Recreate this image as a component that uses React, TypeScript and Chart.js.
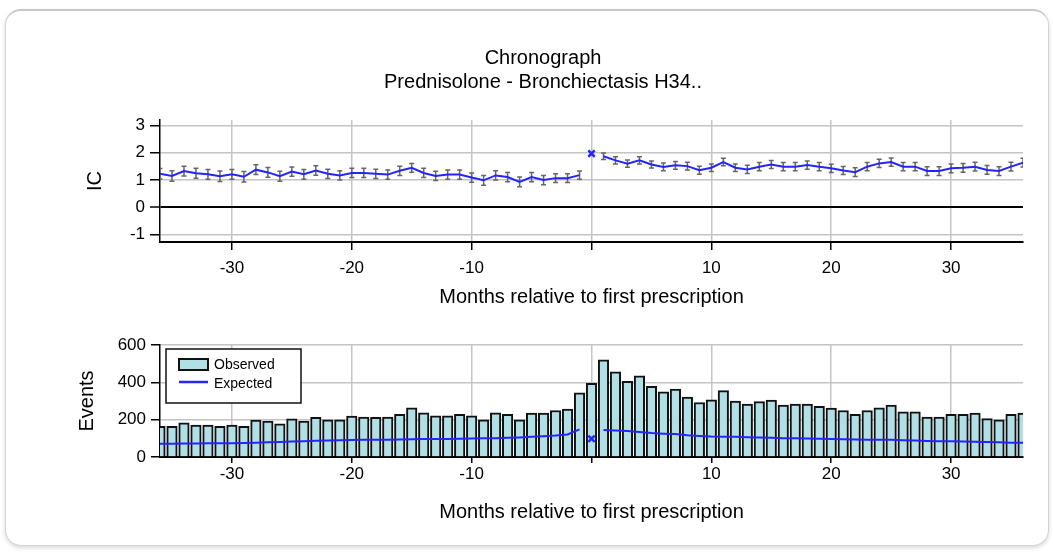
import React, { useEffect, useRef } from 'react';
import { Chart, registerables } from 'chart.js';

Chart.register(...registerables);

const FONT = '"Liberation Sans", Arial, Helvetica, sans-serif';
const BLUE = '#2424ff';
const GRID = '#c4c4c4';
const BAR_FILL = '#b0e0e6';

const chartTitle = ['Chronograph', 'Prednisolone - Bronchiectasis H34..'];
const xTitle = 'Months relative to first prescription';

const monthsBefore = [-36, -35, -34, -33, -32, -31, -30, -29, -28, -27, -26, -25, -24, -23, -22, -21, -20, -19, -18, -17, -16, -15, -14, -13, -12, -11, -10, -9, -8, -7, -6, -5, -4, -3, -2, -1];
const monthZero = 0;
const monthsAfter = [1, 2, 3, 4, 5, 6, 7, 8, 9, 10, 11, 12, 13, 14, 15, 16, 17, 18, 19, 20, 21, 22, 23, 24, 25, 26, 27, 28, 29, 30, 31, 32, 33, 34, 35, 36];

const icBefore = [1.23, 1.15, 1.33, 1.25, 1.21, 1.14, 1.21, 1.12, 1.38, 1.28, 1.14, 1.31, 1.21, 1.35, 1.23, 1.17, 1.26, 1.26, 1.23, 1.2, 1.34, 1.45, 1.26, 1.15, 1.2, 1.2, 1.09, 0.99, 1.17, 1.11, 0.93, 1.11, 1.0, 1.07, 1.07, 1.18];
const icAtZero = 1.97;
const icAfter = [1.87, 1.72, 1.6, 1.72, 1.57, 1.48, 1.54, 1.51, 1.36, 1.45, 1.66, 1.45, 1.39, 1.49, 1.57, 1.49, 1.49, 1.55, 1.49, 1.43, 1.35, 1.29, 1.49, 1.61, 1.66, 1.49, 1.49, 1.33, 1.33, 1.43, 1.45, 1.49, 1.37, 1.33, 1.49, 1.64];
const icErrBefore = [0.19, 0.19, 0.18, 0.18, 0.18, 0.19, 0.18, 0.19, 0.18, 0.18, 0.18, 0.17, 0.18, 0.17, 0.17, 0.17, 0.17, 0.17, 0.17, 0.17, 0.17, 0.16, 0.17, 0.17, 0.17, 0.17, 0.17, 0.18, 0.17, 0.17, 0.18, 0.17, 0.17, 0.16, 0.16, 0.15];
const icErrAfter = [0.12, 0.13, 0.13, 0.13, 0.13, 0.14, 0.14, 0.14, 0.15, 0.14, 0.14, 0.14, 0.15, 0.15, 0.15, 0.15, 0.15, 0.15, 0.15, 0.15, 0.15, 0.16, 0.15, 0.15, 0.15, 0.15, 0.15, 0.16, 0.16, 0.16, 0.16, 0.16, 0.16, 0.16, 0.16, 0.16];

const observedBefore = [164, 164, 183, 171, 171, 164, 171, 164, 198, 192, 178, 205, 192, 212, 199, 199, 219, 214, 213, 214, 228, 264, 237, 221, 221, 228, 221, 199, 237, 228, 199, 235, 235, 249, 257, 344];
const observedAtZero = 394;
const observedAfter = [520, 456, 406, 435, 378, 349, 364, 321, 292, 306, 356, 299, 283, 297, 305, 278, 283, 283, 271, 262, 249, 228, 249, 264, 278, 242, 242, 214, 214, 228, 228, 235, 206, 199, 228, 235];

const expectedBefore = [71, 71, 72, 72, 73, 73, 74, 75, 77, 79, 81, 83, 85, 87, 88, 90, 91, 92, 92, 93, 94, 95, 96, 96, 97, 98, 99, 100, 101, 103, 105, 108, 111, 115, 121, 148];
const expectedAtZero = 98;
const expectedAfter = [144, 142, 139, 134, 128, 125, 123, 116, 113, 110, 109, 108, 106, 104, 103, 101, 100, 99, 98, 96, 95, 94, 93, 93, 92, 90, 88, 86, 85, 84, 83, 82, 80, 79, 77, 76];

const xTickValues = [-30, -20, -10, 0, 10, 20, 30];
const icTickValues = [-1, 0, 1, 2, 3];
const eventTickValues = [0, 200, 400, 600];

const pts = (xs: number[], ys: number[]) => xs.map((x, i) => ({ x, y: ys[i] }));

const errorBarPlugin = {
  id: 'icErrorBars',
  beforeDatasetsDraw(chart: any) {
    const { ctx, chartArea, scales } = chart;
    const xs = [...monthsBefore, ...monthsAfter];
    const ys = [...icBefore, ...icAfter];
    const es = [...icErrBefore, ...icErrAfter];
    ctx.save();
    ctx.beginPath();
    ctx.rect(chartArea.left, chartArea.top, chartArea.right - chartArea.left, chartArea.bottom - chartArea.top);
    ctx.clip();
    ctx.strokeStyle = '#666666';
    ctx.lineWidth = 1.5;
    xs.forEach((m, i) => {
      const px = scales.x.getPixelForValue(m);
      const top = scales.y.getPixelForValue(ys[i] + es[i]);
      const bot = scales.y.getPixelForValue(ys[i] - es[i]);
      ctx.beginPath();
      ctx.moveTo(px, top);
      ctx.lineTo(px, bot);
      ctx.moveTo(px - 2.5, top);
      ctx.lineTo(px + 2.5, top);
      ctx.moveTo(px - 2.5, bot);
      ctx.lineTo(px + 2.5, bot);
      ctx.stroke();
    });
    ctx.restore();
  },
};

const legendPlugin = {
  id: 'boxLegend',
  afterDraw(chart: any) {
    const { ctx, chartArea } = chart;
    const bx = chartArea.left + 6;
    const by = chartArea.top + 4;
    const bw = 135;
    const bh = 54;
    const obsLabel = chart.data.datasets[3].label;
    const expLabel = chart.data.datasets[0].label;
    ctx.save();
    ctx.fillStyle = '#ffffff';
    ctx.fillRect(bx, by, bw, bh);
    ctx.strokeStyle = '#111';
    ctx.lineWidth = 1.5;
    ctx.strokeRect(bx, by, bw, bh);
    ctx.fillStyle = BAR_FILL;
    ctx.fillRect(bx + 13, by + 10, 29, 11);
    ctx.strokeStyle = '#111';
    ctx.lineWidth = 2;
    ctx.strokeRect(bx + 13, by + 10, 29, 11);
    ctx.strokeStyle = BLUE;
    ctx.lineWidth = 2.5;
    ctx.beginPath();
    ctx.moveTo(bx + 13, by + 33);
    ctx.lineTo(bx + 42, by + 33);
    ctx.stroke();
    ctx.fillStyle = '#000';
    ctx.font = `14px ${FONT}`;
    ctx.textBaseline = 'middle';
    ctx.textAlign = 'left';
    ctx.fillText(obsLabel, bx + 48, by + 16);
    ctx.fillText(expLabel, bx + 48, by + 35);
    ctx.restore();
  },
};

const tickFont = { family: FONT, size: 17 };
const titleFont = { family: FONT, size: 20 };

export default function App() {
  const topRef = useRef<HTMLCanvasElement>(null);
  const botRef = useRef<HTMLCanvasElement>(null);

  useEffect(() => {
    const topChart = new Chart(topRef.current as HTMLCanvasElement, {
      type: 'line',
      data: {
        datasets: [
          { label: 'IC', data: pts(monthsBefore, icBefore), borderColor: BLUE, borderWidth: 2, pointRadius: 0, tension: 0 },
          { label: 'IC ', data: pts(monthsAfter, icAfter), borderColor: BLUE, borderWidth: 2, pointRadius: 0, tension: 0 },
          { label: 'IC 0', data: [{ x: monthZero, y: icAtZero }], showLine: false, borderColor: BLUE, backgroundColor: BLUE, pointStyle: 'crossRot', pointRadius: 4.5, borderWidth: 2.5 },
        ] as any,
      },
      options: {
        responsive: false,
        animation: false,
        events: [],
        layout: { padding: { left: 63, right: 30, top: 0, bottom: 0 } },
        plugins: {
          legend: { display: false },
          tooltip: { enabled: false },
          title: {
            display: true,
            text: chartTitle,
            color: '#000',
            font: { family: FONT, size: 20, weight: 'normal' },
            padding: { top: 46, bottom: 26 },
          },
        },
        scales: {
          x: {
            type: 'linear',
            min: -36,
            max: 36,
            afterBuildTicks: (s: any) => { s.ticks = xTickValues.map((v) => ({ value: v })); },
            afterFit: (s: any) => { s.height = 78; },
            ticks: { color: '#000', font: tickFont, padding: 8, maxRotation: 0, autoSkip: false, callback: (v: any) => (v === 0 ? '' : String(v)) },
            grid: { color: GRID, lineWidth: 1.5, tickLength: 8, tickColor: '#000', tickWidth: 1.5 },
            border: { color: '#000', width: 2 },
            title: { display: true, text: xTitle, color: '#000', font: titleFont, padding: { top: 0, bottom: 11 } },
          },
          y: {
            type: 'linear',
            min: -1.27,
            max: 3.2,
            afterBuildTicks: (s: any) => { s.ticks = icTickValues.map((v) => ({ value: v })); },
            afterFit: (s: any) => { s.width = 97; },
            ticks: { color: '#000', font: tickFont, padding: 5 },
            grid: {
              color: (c: any) => (c.tick && c.tick.value === 0 ? '#000' : GRID),
              lineWidth: (c: any) => (c.tick && c.tick.value === 0 ? 2 : 1.5),
              tickLength: 10,
              tickColor: '#000',
              tickWidth: 1.5,
            },
            border: { color: '#000', width: 1.5 },
            title: { display: true, text: 'IC', color: '#000', font: titleFont, padding: { top: 20, bottom: 0 } },
          },
        },
      } as any,
      plugins: [errorBarPlugin],
    });

    const botChart = new Chart(botRef.current as HTMLCanvasElement, {
      type: 'bar',
      data: {
        datasets: [
          { type: 'line', label: 'Expected', data: pts(monthsBefore, expectedBefore), borderColor: BLUE, borderWidth: 2, pointRadius: 0, tension: 0, order: 0 },
          { type: 'line', label: 'Expected ', data: pts(monthsAfter, expectedAfter), borderColor: BLUE, borderWidth: 2, pointRadius: 0, tension: 0, order: 0 },
          { type: 'line', label: 'Expected 0', data: [{ x: monthZero, y: expectedAtZero }], showLine: false, borderColor: BLUE, backgroundColor: BLUE, pointStyle: 'crossRot', pointRadius: 4.5, borderWidth: 2.5, order: 0 },
          {
            type: 'bar',
            label: 'Observed',
            data: pts([...monthsBefore, monthZero, ...monthsAfter], [...observedBefore, observedAtZero, ...observedAfter]),
            backgroundColor: BAR_FILL,
            borderColor: '#111111',
            borderWidth: 2,
            barThickness: 10.5,
            clip: 0,
            order: 1,
          },
        ] as any,
      },
      options: {
        responsive: false,
        animation: false,
        events: [],
        layout: { padding: { left: 0, right: 30, top: 25, bottom: 0 } },
        plugins: { legend: { display: false }, tooltip: { enabled: false }, title: { display: false } },
        scales: {
          x: {
            type: 'linear',
            min: -36,
            max: 36,
            offset: false,
            afterBuildTicks: (s: any) => { s.ticks = xTickValues.map((v) => ({ value: v })); },
            afterFit: (s: any) => { s.height = 95; },
            ticks: { color: '#000', font: tickFont, padding: 1, maxRotation: 0, autoSkip: false, callback: (v: any) => (v === 0 ? '' : String(v)) },
            grid: { offset: false, color: GRID, lineWidth: 1.5, tickLength: 6, tickColor: '#000', tickWidth: 1.5 },
            border: { color: '#000', width: 2 },
            title: { display: true, text: xTitle, color: '#000', font: titleFont, padding: { top: 0, bottom: 28 } },
          },
          y: {
            type: 'linear',
            min: 0,
            max: 600,
            afterBuildTicks: (s: any) => { s.ticks = eventTickValues.map((v) => ({ value: v })); },
            afterFit: (s: any) => { s.width = 160; },
            ticks: { color: '#000', font: tickFont, padding: 5 },
            grid: { color: GRID, lineWidth: 1.5, tickLength: 9, tickColor: '#000', tickWidth: 1.5 },
            border: { color: '#000', width: 1.5 },
            title: { display: true, text: 'Events', color: '#000', font: titleFont, padding: { top: 75, bottom: 0 } },
          },
        },
      } as any,
      plugins: [legendPlugin],
    });

    return () => {
      topChart.destroy();
      botChart.destroy();
    };
  }, []);

  return (
    <div style={{ position: 'fixed', left: 0, top: 0, width: 1053, height: 552, background: '#fff', overflow: 'hidden' }}>
      <div
        style={{
          position: 'absolute',
          left: 5,
          top: 9,
          width: 1042,
          height: 534,
          border: '1px solid #d4d4d4',
          borderTop: '2px solid #c8c8c8',
          borderRadius: 16,
          boxShadow: '0 2px 4px rgba(0,0,0,0.15)',
          background: '#fff',
        }}
      />
      <canvas ref={topRef} width={1053} height={320} style={{ position: 'absolute', left: 0, top: 0, width: 1053, height: 320 }} />
      <canvas ref={botRef} width={1053} height={232} style={{ position: 'absolute', left: 0, top: 320, width: 1053, height: 232 }} />
    </div>
  );
}
